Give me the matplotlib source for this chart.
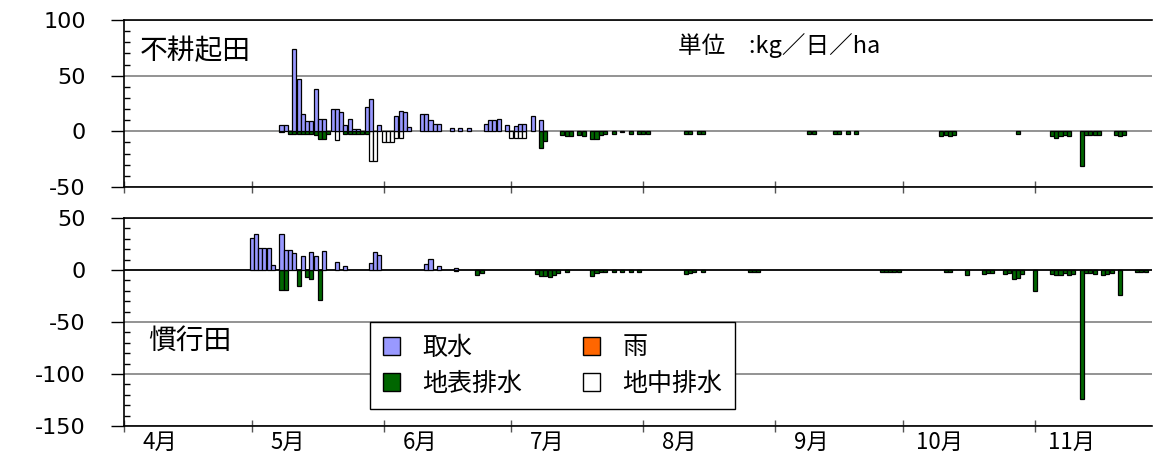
import matplotlib.pyplot as plt
from matplotlib.patches import Patch
from matplotlib.transforms import blended_transform_factory

plt.rcParams['font.family'] = ['Noto Sans CJK JP', 'DejaVu Sans']
plt.rcParams['axes.unicode_minus'] = False

# x is days counted from 4/1
month_starts = [0, 30, 61, 91, 122, 153, 183, 214]
month_labels = ['4月', '5月', '6月', '7月', '8月', '9月', '10月', '11月']

# 不耕起田 (no-till field), kg/day/ha
nt_intake_days = [37, 38, 40, 41, 42, 43, 44, 45, 46, 47, 49, 50, 51, 52, 53, 54, 55,
                  57, 58, 60, 64, 65, 66, 67, 70, 71, 72, 73, 74, 77, 79, 81,
                  85, 86, 87, 88, 90, 92, 93, 94, 96, 98]
nt_intake_vals = [6, 6, 74, 47, 16, 9, 9, 38, 11, 11, 20, 20, 17, 6, 11, 2, 2,
                  22, 29, 6, 14, 18, 17, 4, 16, 16, 10, 7, 7, 3, 3, 3,
                  7, 10, 10, 11, 6, 5, 7, 7, 14, 10]
nt_rain_days = []
nt_rain_vals = []
nt_surface_days = [37, 39, 40, 41, 42, 43, 44, 45, 46, 47, 48, 52, 53, 54, 55, 56, 57,
                   98, 99, 103, 104, 105, 107, 108, 110, 111, 112, 113, 115, 117, 119,
                   121, 122, 123, 132, 133, 135, 136, 161, 162, 167, 168, 170, 172,
                   192, 193, 194, 195, 210, 218, 219, 220, 221, 222, 225, 226, 227,
                   228, 229, 233, 234, 235]
nt_surface_vals = [-1, -2, -2, -2, -2, -2, -2, -3, -7, -7, -2, -2, -2, -2, -2, -2, -2,
                   -15, -9, -3, -4, -4, -3, -4, -7, -7, -3, -2, -2, -1, -2,
                   -2, -2, -2, -2, -2, -2, -2, -2, -2, -2, -2, -2, -2,
                   -4, -3, -4, -3, -2, -4, -6, -4, -3, -4, -31, -3, -3,
                   -3, -3, -3, -4, -3]
nt_under_days = [50, 58, 59, 61, 62, 63, 64, 65, 91, 92, 93, 94]
nt_under_vals = [-8, -27, -27, -10, -10, -10, -6, -6, -6, -6, -6, -6]

# 慣行田 (conventional field)
cv_intake_days = [30, 31, 32, 33, 34, 35, 37, 38, 39, 40, 42, 44, 45, 47, 50, 52,
                  58, 59, 60, 71, 72, 74, 78]
cv_intake_vals = [31, 35, 21, 21, 21, 5, 35, 19, 19, 16, 13, 17, 13, 18, 8, 4,
                  7, 17, 14, 6, 11, 4, 2]
cv_rain_days = []
cv_rain_vals = []
cv_surface_days = [37, 38, 41, 43, 44, 46, 78, 83, 84, 97, 98, 99, 100, 101, 102, 104,
                   110, 111, 112, 113, 115, 117, 119, 121, 132, 133, 134, 136,
                   147, 148, 149, 178, 179, 180, 181, 182, 193, 194, 198,
                   202, 203, 204, 207, 208, 209, 210, 211, 214, 218, 219, 220, 221,
                   222, 223, 225, 226, 227, 228, 230, 231, 232, 234, 238, 239, 240]
cv_surface_vals = [-19, -19, -15, -7, -9, -29, -1, -5, -3, -4, -6, -6, -7, -5, -3, -2,
                   -6, -3, -2, -2, -2, -2, -2, -2, -4, -3, -2, -2,
                   -2, -2, -2, -2, -2, -2, -2, -2, -2, -2, -5,
                   -4, -3, -3, -4, -3, -9, -8, -4, -20, -4, -5, -5, -3,
                   -5, -4, -124, -3, -3, -4, -5, -4, -3, -24, -2, -2, -2]
cv_under_days = []
cv_under_vals = []

c_intake = '#9999FF'
c_rain = '#FF6600'
c_surface = '#006600'
c_under = 'white'

W, H = 1154, 466
fig = plt.figure(figsize=(W / 100, H / 100), dpi=100)
ax1 = fig.add_axes([124 / W, 1 - 187 / H, (1152 - 124) / W, (187 - 20) / H])
ax2 = fig.add_axes([124 / W, 1 - 426 / H, (1152 - 124) / W, (426 - 218) / H])


def draw_panel(ax, intake, rain, surface, under, ylo, yhi):
    ax.bar(under[0], under[1], width=0.95, color=c_under, edgecolor='black', linewidth=0.9, zorder=3)
    ax.bar(surface[0], surface[1], width=0.95, color=c_surface, edgecolor='black', linewidth=0.9, zorder=3)
    ax.bar(intake[0], intake[1], width=0.95, color=c_intake, edgecolor='black', linewidth=0.9, zorder=3)
    ax.bar(rain[0], rain[1], width=0.5, color=c_rain, edgecolor='black', linewidth=0.9, zorder=3)

    ax.set_xlim(0, 241.5)
    ax.set_ylim(ylo, yhi)
    yt = list(range(ylo, yhi + 1, 50))
    ax.set_yticks(yt, [str(v) for v in yt], fontfamily='DejaVu Sans', fontsize=16)
    ax.set_yticks(range(ylo, yhi + 1, 10), minor=True)
    ax.yaxis.grid(True, which='major', color='#808080', linewidth=1.2, zorder=0)
    ax.set_axisbelow(True)
    ax.tick_params(axis='y', which='major', direction='out', length=9.5, width=1, pad=18)
    ax.tick_params(axis='y', which='minor', direction='in', length=4.5, width=1)
    ax.set_xticks(month_starts, [''] * len(month_starts))
    ax.tick_params(axis='x', which='major', direction='inout', length=8, width=1, color='#555555')
    for s in ['left', 'bottom', 'top']:
        ax.spines[s].set_linewidth(1.2)
        ax.spines[s].set_color('black')
    ax.spines['right'].set_visible(False)


draw_panel(ax1, (nt_intake_days, nt_intake_vals), (nt_rain_days, nt_rain_vals),
           (nt_surface_days, nt_surface_vals), (nt_under_days, nt_under_vals), -50, 100)
draw_panel(ax2, (cv_intake_days, cv_intake_vals), (cv_rain_days, cv_rain_vals),
           (cv_surface_days, cv_surface_vals), (cv_under_days, cv_under_vals), -150, 50)
ax2.axhline(0, color='black', linewidth=1.2, zorder=2)

# month names sit a little right of each month start
trans = blended_transform_factory(ax2.transData, ax2.transAxes)
for m, lab in zip(month_starts, month_labels):
    ax2.text(m + 8.5, -0.025, lab, transform=trans, ha='center', va='top', fontsize=16)

fig.text(140 / W, 1 - 51 / H, '不耕起田', fontsize=20, va='center')
fig.text(148 / W, 1 - 341 / H, '慣行田', fontsize=20, va='center')
fig.text(678 / W, 1 - 46 / H, '単位　:kg／日／ha', fontsize=17, va='center')

handles = [Patch(facecolor=c_intake, edgecolor='black'),
           Patch(facecolor=c_surface, edgecolor='black'),
           Patch(facecolor=c_rain, edgecolor='black'),
           Patch(facecolor=c_under, edgecolor='black')]
labels = ['取水', '地表排水', '雨', '地中排水']
leg = ax2.legend(handles, labels, ncol=2, loc='upper left',
                 bbox_to_anchor=(370 / W, 1 - 322 / H), bbox_transform=fig.transFigure,
                 fontsize=18, fancybox=False, edgecolor='black', framealpha=1,
                 handlelength=0.7, handleheight=0.7, handletextpad=0.9,
                 columnspacing=2.4, borderpad=0.5, labelspacing=0.4, borderaxespad=0)
leg.get_frame().set_linewidth(1.0)
leg.set_zorder(5)

fig.savefig('out.png', dpi=100)
